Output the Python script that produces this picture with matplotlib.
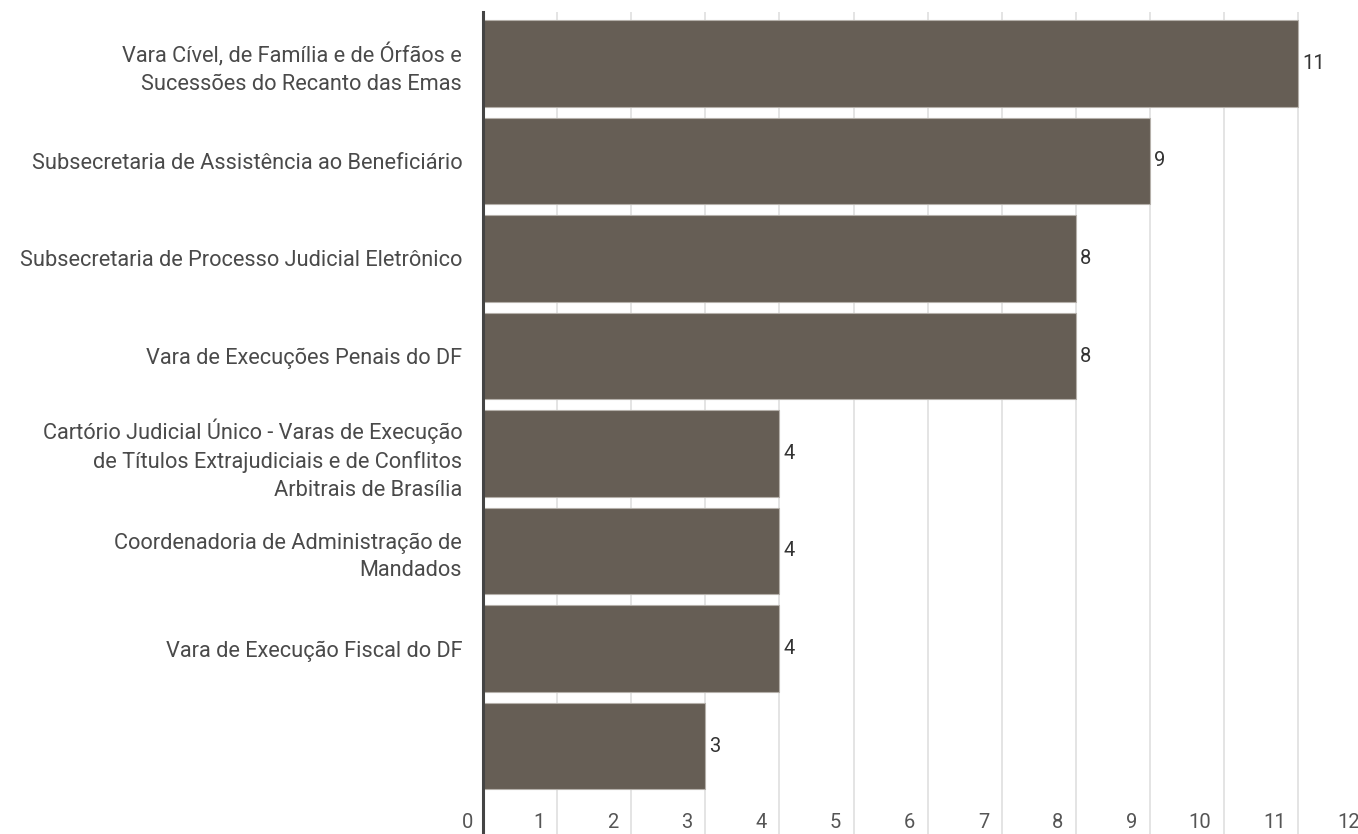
import matplotlib
matplotlib.use("Agg")
import matplotlib.pyplot as plt

categories = [
    "Vara Cível, de Família e de Órfãos e\nSucessões do Recanto das Emas",
    "Subsecretaria de Assistência ao Beneficiário",
    "Subsecretaria de Processo Judicial Eletrônico",
    "Vara de Execuções Penais do DF",
    "Cartório Judicial Único - Varas de Execução\nde Títulos Extrajudiciais e de Conflitos\nArbitrais de Brasília",
    "Coordenadoria de Administração de\nMandados",
    "Vara de Execução Fiscal do DF",
    "",
]
values = [11, 9, 8, 8, 4, 4, 4, 3]
xticks = list(range(0, 13))

plt.rcParams['font.family'] = ['Roboto', 'DejaVu Sans']

W, H = 1358, 834
fig = plt.figure(figsize=(W / 100, H / 100), dpi=100)
x0, x12 = 483, 483 + 12 * 74.1
ytop, ybot = 12, 834
ax = fig.add_axes([x0 / W, (H - ybot) / H, (x12 - x0) / W, (ybot - ytop) / H])

pitch = 97.5
c0 = 63.5
ax.set_ylim((ybot - c0) / pitch, -(c0 - ytop) / pitch)
ax.set_xlim(0, 12)

ypos = list(range(len(values)))
ax.barh(ypos, values, height=0.89, color="#665e55", edgecolor="#b5b0aa",
        linewidth=0.8, zorder=3)

for y, v in zip(ypos, values):
    ax.annotate(str(v), (v, y), xytext=(3, 0), textcoords="offset points",
                ha="left", va="center", fontsize=14.5, color="#333333", zorder=4)

for t in xticks[1:]:
    ax.axvline(t, color="#dcdcdc", lw=1.1, zorder=1)

ylab = (822 - c0) / pitch
for t in xticks:
    ax.annotate(str(t), (t, ylab), xytext=(-9 if t > 0 else -7, 0),
                textcoords="offset points", ha="right", va="center",
                fontsize=14.5, color="#555555", annotation_clip=False)

ax.set_yticks(ypos)
ax.set_yticklabels(categories, fontsize=15.7, color="#4a4a4a", linespacing=1.42)
ax.tick_params(axis="y", length=0, pad=15)
ax.set_xticks([])

for s in ["top", "right", "bottom"]:
    ax.spines[s].set_visible(False)
ax.spines["left"].set_color("#444444")
ax.spines["left"].set_linewidth(2.2)
ax.spines["left"].set_zorder(5)

fig.savefig("out.png", dpi=100)
